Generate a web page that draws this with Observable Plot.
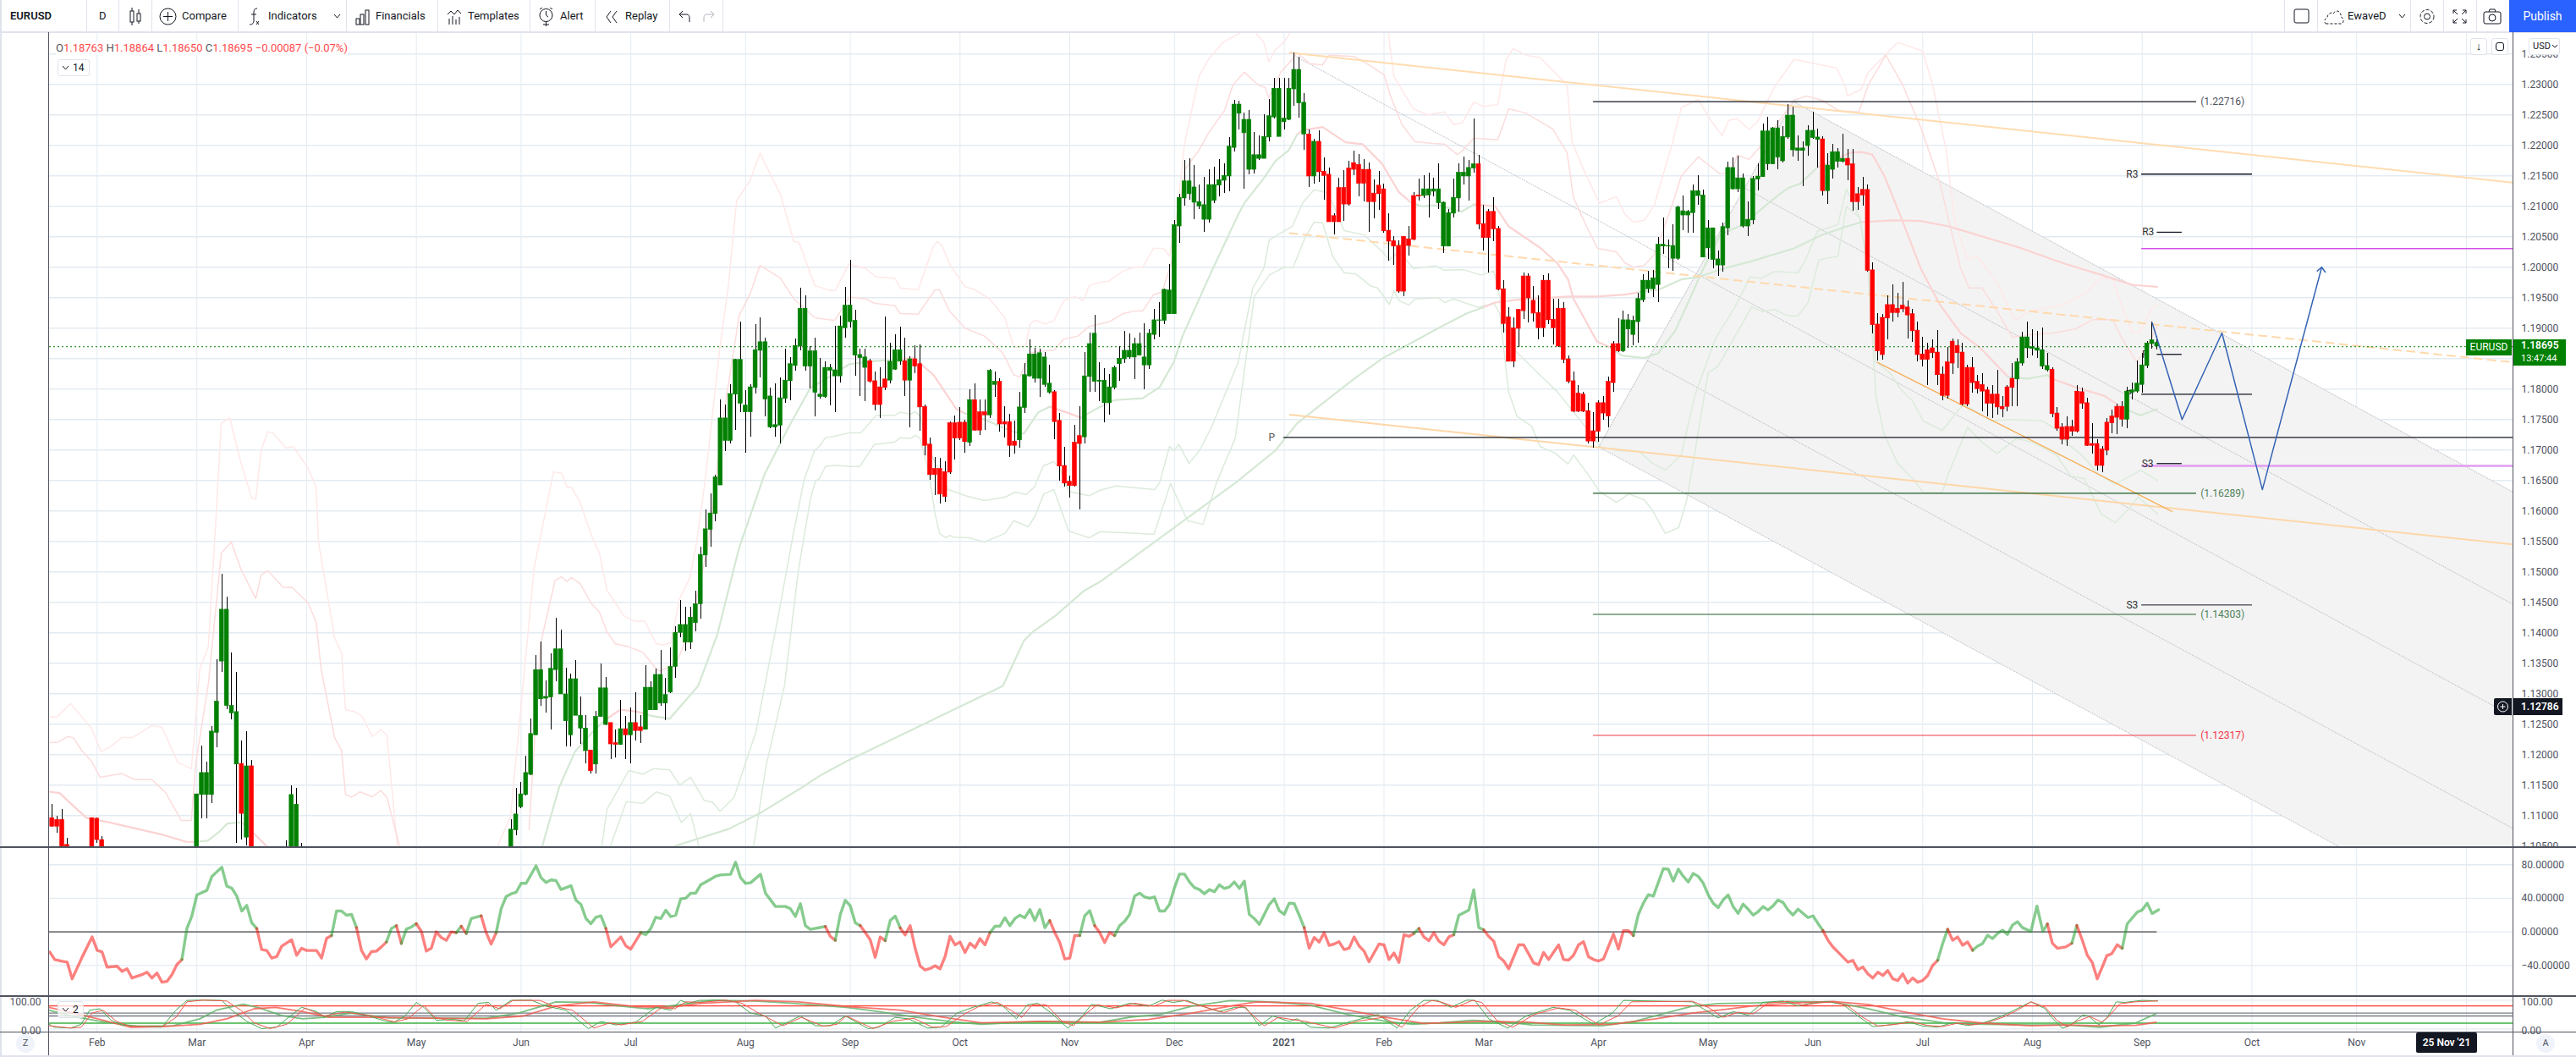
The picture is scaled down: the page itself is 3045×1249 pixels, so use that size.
<!DOCTYPE html>
<html><head><meta charset="utf-8">
<script src="https://cdn.jsdelivr.net/npm/d3@7"></script>
<script src="https://cdn.jsdelivr.net/npm/@observablehq/plot@0.6"></script>
<style>
html,body{margin:0;padding:0;background:#fff;width:3045px;height:1249px;overflow:hidden;font-family:Roboto,sans-serif}
.p{position:absolute;left:0}
.t{position:absolute;white-space:nowrap;color:#131722;font-size:13px;line-height:16px}
.b{position:absolute;box-sizing:border-box}
svg{display:block}
</style></head><body>
<div id="root" style="position:relative;width:3045px;height:1249px"></div>
<script>
// ---- Candles: rows are [bodyTop, bodyBottom, high, low] in 1/10000 of a price unit ----
const barsJan20a=[[11096,11082,11118,11081],[11093,11082,11099,11071],[11093,11047,11110,11040],[11052,11040,11063,11040]];
const barsJan20b=[[11096,11040,11096,11040],[11095,11060,11096,11055],[11060,11040,11066,11040]];
const barsMar20=[[11135,11040,11135,11040],[11170,11134,11214,11095],[11170,11134,11188,11095],[11238,11134,11246,11120],[11287,11236,11356,11211],[11438,11353,11496,11335],[11438,11280,11459,11274],[11280,11268,11367,11257],[11270,11184,11335,11055],[11185,11103,11223,11060],[11181,11064,11238,11050],[11181,11040,11191,11040]];
const barsApr20=[[11040,11040,11059,11040],[11134,11040,11149,11040],[11118,11040,11145,11040],[11040,11040,11054,11040]];
const barsJun20=[[11077,11040,11094,11040],[11102,11076,11145,11067],[11135,11114,11155,11112],[11170,11134,11198,11132],[11234,11167,11259,11166],[11339,11232,11363,11232],[11339,11291,11385,11280],[11295,11292,11321,11268],[11341,11294,11366,11241],[11373,11339,11424,11320],[11373,11299,11405,11299],[11299,11255,11342,11213],[11324,11232,11332,11213],[11324,11264,11355,11264],[11264,11243,11295,11217],[11243,11206,11264,11185],[11207,11173,11207,11168],[11262,11184,11271,11168],[11309,11262,11349,11262],[11309,11249,11327,11248],[11252,11217,11252,11192],[11219,11216,11241,11195],[11242,11216,11289,11216],[11242,11232,11263,11192],[11252,11232,11277,11185],[11252,11239,11302,11223],[11245,11239,11264,11219],[11310,11241,11346,11241],[11310,11273,11320,11273],[11331,11273,11341,11273],[11331,11284,11371,11280],[11298,11284,11325,11256]];
const barsJul20=[[11344,11302,11375,11300],[11400,11344,11410,11325],[11413,11400,11453,11392],[11413,11384,11442,11370],[11425,11384,11442,11373],[11447,11416,11469,11402],[11528,11447,11541,11423],[11570,11527,11602,11507],[11596,11569,11628,11540],[11655,11595,11659,11582],[11752,11642,11782,11642],[11752,11715,11774,11698],[11792,11715,11807,11710],[11848,11791,11849,11732],[11848,11776,11910,11762]];
const barsAug20=[[11773,11762,11798,11695],[11803,11762,11807,11721],[11864,11802,11906,11792],[11877,11863,11917,11818],[11877,11783,11884,11755],[11788,11737,11802,11735],[11741,11737,11809,11721],[11785,11740,11819,11710],[11814,11784,11866,11777],[11841,11813,11852,11781],[11871,11838,11882,11829],[11932,11870,11966,11863],[11932,11837,11953,11830],[11862,11837,11870,11801],[11862,11794,11884,11754],[11791,11787,11850,11784],[11835,11787,11845,11785],[11835,11830,11841,11773],[11831,11821,11903,11762],[11903,11821,11920,11810],[11937,11900,11967,11884]];
const barsSep20=[[11937,11910,12012,11900],[11912,11855,11930,11821],[11856,11851,11866,11788],[11852,11835,11866,11780],[11846,11812,11849,11810],[11813,11774,11828,11764],[11803,11774,11835,11752],[11816,11802,11919,11798],[11845,11814,11875,11809],[11864,11832,11889,11831],[11864,11845,11902,11839],[11846,11814,11884,11788],[11849,11814,11853,11737],[11849,11837,11871,11826],[11841,11770,11873,11731],[11771,11707,11774,11691],[11709,11659,11720,11651],[11669,11659,11688,11625],[11669,11627,11687,11612],[11664,11623,11681,11614],[11744,11663,11746,11660],[11744,11719,11756,11684]];
const barsOct20=[[11745,11719,11770,11716],[11745,11713,11749,11695],[11782,11712,11799,11706],[11782,11732,11809,11731],[11762,11732,11782,11724],[11762,11757,11782,11732],[11830,11757,11832,11752],[11812,11807,11828,11787],[11812,11742,11817,11730],[11746,11742,11771,11720],[11746,11707,11759,11688],[11714,11707,11748,11694],[11770,11716,11795,11703],[11823,11769,11842,11760],[11857,11821,11881,11820],[11857,11817,11867,11810],[11859,11817,11866,11787],[11852,11807,11860,11803],[11809,11794,11839,11792],[11795,11746,11798,11717],[11748,11673,11760,11649],[11674,11645,11705,11639]];
const barsNov20=[[11648,11641,11657,11621],[11712,11641,11741,11639],[11723,11710,11771,11602],[11821,11721,11860,11710],[11874,11820,11892,11795],[11891,11812,11921,11795],[11814,11812,11844,11780],[11814,11777,11834,11745],[11803,11777,11824,11757],[11835,11802,11838,11799],[11850,11841,11870,11813],[11863,11849,11895,11842],[11863,11852,11891,11849],[11874,11852,11884,11816],[11874,11855,11892,11855],[11852,11839,11907,11799],[11891,11839,11898,11832],[11913,11889,11931,11881],[11913,11912,11942,11885],[11963,11912,11964,11906],[11962,11923,12005,11923]];
const barsDec20=[[12069,11923,12077,11923],[12114,12067,12120,12039],[12141,12113,12175,12100],[12141,12120,12178,12110],[12131,12106,12167,12078],[12107,12100,12135,12095],[12102,12078,12148,12057],[12135,12078,12160,12073],[12135,12109,12164,12105],[12143,12134,12177,12116],[12150,12142,12170,12121],[12198,12149,12213,12124],[12267,12196,12274,12189],[12267,12252,12273,12225],[12242,12220,12253,12128],[12242,12160,12257,12152],[12184,12160,12221,12153],[12184,12178,12216,12175],[12214,12178,12250,12178],[12248,12213,12275,12206],[12293,12246,12310,12244],[12293,12214,12310,12214]];
const barsJan21=[[12244,12238,12310,12226],[12293,12242,12310,12240],[12324,12292,12352,12264],[12324,12269,12345,12245],[12270,12218,12285,12192],[12218,12149,12225,12131],[12206,12149,12210,12137],[12206,12156,12224,12139],[12157,12150,12180,12110],[12152,12074,12163,12074],[12084,12074,12088,12053],[12130,12074,12146,12074],[12130,12103,12159,12075],[12162,12103,12174,12100],[12171,12160,12191,12150],[12168,12137,12185,12116],[12160,12137,12177,12107],[12160,12107,12171,12057],[12121,12107,12143,12080],[12134,12120,12157,12093]];
const barsFeb21=[[12128,12059,12137,12056],[12060,12042,12088,12010],[12043,12034,12050,12003],[12035,11960,12043,11957],[12050,11960,12050,11952],[12046,12035,12067,12018],[12117,12045,12123,12043],[12118,12116,12145,12109],[12128,12117,12150,12113],[12128,12118,12155,12081],[12128,12124,12146,12116],[12128,12105,12170,12095],[12106,12034,12107,12023],[12089,12034,12095,12034],[12114,12088,12145,12081],[12155,12113,12170,12091],[12155,12149,12181,12135],[12163,12149,12175,12109],[12169,12162,12243,12155],[12169,12070,12184,12062]];
const barsMar21=[[12071,12048,12102,12027],[12091,12048,12095,11991],[12091,12062,12114,12042],[12063,11963,12067,11962],[11964,11907,11978,11892],[11918,11845,11934,11845],[11900,11845,11917,11835],[11930,11899,11931,11868],[11985,11928,11991,11914],[11985,11949,11989,11909],[11945,11924,11968,11910],[11925,11900,11953,11881],[11978,11900,11987,11885],[11978,11913,11989,11906],[11914,11900,11948,11873],[11932,11870,11948,11869],[11932,11848,11942,11842],[11849,11812,11855,11809],[11813,11763,11828,11762],[11793,11763,11806,11762],[11791,11763,11795,11762],[11764,11714,11777,11710],[11731,11714,11762,11703]];
const barsApr21=[[11777,11730,11781,11713],[11777,11760,11788,11749],[11812,11755,11820,11737],[11874,11810,11878,11795],[11874,11862,11916,11860],[11913,11862,11928,11860],[11913,11898,11923,11867],[11912,11889,11920,11871],[11948,11910,11957,11875],[11978,11946,11988,11942],[11978,11964,11994,11957],[11982,11964,11995,11950],[12037,11971,12049,11942],[12037,12034,12081,12021],[12035,12034,12045,11998],[12035,12014,12070,11994],[12098,12014,12101,12012],[12092,12085,12117,12060],[12091,12085,12093,12056],[12125,12089,12135,12056],[12125,12117,12150,12102],[12118,12016,12127,12016]];
const barsMay21=[[12064,12031,12077,12013],[12064,12012,12064,11998],[12013,12003,12027,11985],[12066,12003,12073,11992],[12163,12064,12173,12052],[12163,12128,12180,12127],[12146,12128,12182,12123],[12146,12067,12153,12064],[12078,12067,12107,12050],[12145,12077,12149,12070],[12149,12144,12170,12125],[12223,12148,12235,12148],[12223,12169,12246,12159],[12228,12169,12230,12169],[12228,12180,12241,12160],[12214,12174,12231,12171],[12249,12213,12267,12210],[12249,12192,12263,12181],[12195,12191,12216,12174],[12195,12191,12206,12132],[12224,12199,12232,12182]];
const barsJun21=[[12224,12212,12255,12210],[12213,12209,12227,12163],[12210,12125,12214,12117],[12167,12125,12187,12103],[12189,12160,12202,12145],[12189,12173,12195,12163],[12178,12173,12219,12171],[12178,12167,12193,12142],[12169,12107,12193,12092],[12120,12107,12131,12094],[12127,12118,12148,12100],[12127,11994,12135,11992],[11995,11905,12007,11891],[11906,11862,11924,11846],[11917,11856,11923,11848],[11938,11916,11953,11881],[11938,11925,11971,11910],[11932,11925,11957,11917],[11937,11931,11975,11925],[11934,11921,11945,11882],[11923,11895,11931,11877],[11896,11856,11910,11845]];
const barsJul21=[[11857,11848,11885,11837],[11864,11848,11875,11806],[11867,11859,11881,11850],[11860,11823,11896,11806],[11824,11789,11837,11781],[11844,11789,11869,11784],[11878,11842,11882,11824],[11871,11859,11881,11834],[11860,11775,11875,11773],[11835,11775,11839,11771],[11835,11810,11852,11794],[11812,11800,11823,11792],[11807,11796,11825,11763],[11798,11776,11803,11755],[11791,11776,11806,11752],[11791,11770,11831,11757],[11771,11767,11788,11753],[11803,11771,11806,11763],[11817,11802,11842,11771],[11844,11816,11851,11771],[11885,11842,11894,11838],[11885,11867,11910,11851]];
const barsAug21=[[11869,11866,11898,11855],[11867,11863,11895,11851],[11864,11837,11900,11832],[11838,11831,11859,11828],[11832,11759,11835,11753],[11760,11735,11770,11731],[11737,11717,11744,11709],[11738,11717,11755,11706],[11738,11730,11749,11723],[11796,11730,11806,11728],[11795,11776,11802,11767],[11777,11707,11785,11706],[11710,11707,11744,11694],[11710,11674,11717,11666],[11701,11674,11706,11663],[11745,11699,11752,11691],[11755,11744,11766,11727],[11771,11753,11776,11726],[11771,11750,11780,11738],[11796,11750,11803,11735],[11798,11794,11810,11783],[11809,11796,11846,11794]];
const barsSep21=[[11839,11807,11859,11794],[11875,11838,11878,11834],[11880,11874,11910,11866],[11876,11870,11887,11864]];
const barBlocks=[[-9,barsJan20a],[-1,barsJan20b],[20,barsMar20],[38,barsApr20],[83,barsJun20],[115,barsJul20],[130,barsAug20],[151,barsSep20],[173,barsOct20],[195,barsNov20],[216,barsDec20],[238,barsJan21],[258,barsFeb21],[278,barsMar21],[301,barsApr21],[323,barsMay21],[344,barsJun21],[366,barsJul21],[388,barsAug21],[410,barsSep21]];
const upBarRanges=[[20,28],[30,30],[38,41],[83,98],[100,102],[105,105],[107,107],[110,154],[159,161],[163,163],[175,175],[179,180],[185,191],[198,242],[244,244],[266,276],[306,345],[347,350],[385,391],[407,413]];

// ---- Time axis: bar index of each month start ----
const monthBars=[0,20,42,64,85,107,130,151,173,195,216,238,258,278,301,323,344,366,388,410,432,453,475];
const monthNames=["Feb","Mar","Apr","May","Jun","Jul","Aug","Sep","Oct","Nov","Dec","2021","Feb","Mar","Apr","May","Jun","Jul","Aug","Sep","Oct","Nov","Dec"];

// ---- Price ticks and drawn levels ----
const priceTicks=[1.105,1.11,1.115,1.12,1.125,1.13,1.135,1.14,1.145,1.15,1.155,1.16,1.165,1.17,1.175,1.18,1.185,1.19,1.195,1.2,1.205,1.21,1.215,1.22,1.225,1.23,1.235];
const lastPrice=1.18695;
const levelLines=[
 {a:300,b:420.9,p:1.22716,c:"#131722",w:1.3},{a:300,b:420.9,p:1.16289,c:"#1e5c28",w:1.3},{a:300,b:420.9,p:1.14303,c:"#1e5c28",w:1},{a:300,b:420.9,p:1.12317,c:"#f23645",w:1},
 {a:237.9,b:484.34,p:1.17208,c:"#131722",w:1.3},{a:409.9,b:432.1,p:1.21528,c:"#131722",w:1.3},{a:413,b:418,p:1.20574,c:"#131722",w:1.3},{a:409.9,b:484.34,p:1.20306,c:"#d24fe6",w:1.5},
 {a:413,b:418,p:1.1857,c:"#131722",w:1.3},{a:409.9,b:432.1,p:1.17916,c:"#131722",w:1.3},{a:413,b:418,p:1.16778,c:"#131722",w:1.3},{a:409.9,b:484.34,p:1.16741,c:"#e29cf3",w:2.5},{a:409.9,b:432.1,p:1.14457,c:"#131722",w:1}];
const sideLabels=[
 {i:421.7,p:1.22716,t:"(1.22716)",c:"#50535e"},{i:421.7,p:1.16289,t:"(1.16289)",c:"#4f8258"},{i:421.7,p:1.14303,t:"(1.14303)",c:"#4f8258"},{i:421.7,p:1.12317,t:"(1.12317)",c:"#f23645"}];
const pivotLabels=[
 {i:408,p:1.21528,t:"R3",c:"#333"},{i:411.2,p:1.20574,t:"R3",c:"#333"},{i:235.5,p:1.17208,t:"P",c:"#555"},{i:410.6,p:1.1857,t:"P",c:"#333"},{i:407.3,p:1.17916,t:"P",c:"#333"},{i:411.1,p:1.16778,t:"S3",c:"#333"},{i:408,p:1.14457,t:"S3",c:"#333"}];
const trendTop=[[239.1,12352],[484.34,12139]];
const trendDashed=[[239.1,12056],[484.34,11844]];
const trendBottom=[[239.1,11758],[484.34,11545]];
const trendWedge=[[356.9,11844],[416,11599]];
const forecastPath=[[412,11909],[418,11750],[426,11892],[434.1,11635],[446,12000]];
const forecastHead=[[445.1,11994],[446,12000],[446.7,11992]];
const channelArea=[[301.05,11705,11705],[340.06,11532,12272],[484.34,10895,11631]];
const channelLines=[[[301.05,11705],[340.06,12272]],[[340.06,12272],[484.34,11631]],[[330.3,12130],[484.34,11447]],[[240.5,12345],[484.34,11263]],[[310.8,11847],[484.34,11079]],[[301.05,11705],[484.34,10895]]];

// ---- Moving averages: thick lines, alternating colour runs ----
const maFastDown=[
 [[-9.4,11139],[-7.5,11137],[-5.3,11120],[-2.1,11096],[2.3,11089],[13,11069],[17.9,11057],[19.6,11057]],
 [[29,11089],[31.5,11070],[34.2,11048]],
 [[101.7,11256],[104.9,11274],[107.8,11271],[109.8,11268]],
 [[159.9,11848],[163.8,11851],[167.7,11823],[172.3,11767],[174,11760]],
 [[190.9,11771],[194.3,11762],[197.2,11753]],
 [[240.6,12218],[241.8,12225],[245.7,12230],[250.3,12205],[253.7,12202],[257.6,12170],[261,12123],[263.3,12107]],
 [[276,12103],[280.3,12100],[283,12067],[289.3,12032],[292.7,12007],[294.9,11980],[296,11948],[298.3,11914],[300.7,11878],[303.4,11868]],
 [[344.9,12164],[351.5,12188],[353.7,12189],[355.9,12185],[358.3,12150],[361.7,12081],[365.6,11998],[369.5,11938],[373.6,11892],[377.5,11868],[383.1,11820]],
 [[391.9,11817],[396.7,11803],[402.4,11789],[406.3,11768]]];
const maFastUp=[
 [[19.6,11057],[22.2,11059],[24.4,11073],[26.1,11087],[29,11089]],
 [[89.3,11051],[92.6,11146],[95.8,11205],[99.3,11237],[101.7,11256]],
 [[109.8,11268],[110.9,11264],[114.8,11259],[120.5,11313],[124.3,11396],[128.7,11539],[133.8,11660],[138.4,11734],[143,11802],[146.8,11820],[150.8,11841],[155.8,11846],[159.9,11848]],
 [[174,11760],[177.9,11750],[183.6,11730],[185.8,11727],[188.7,11762],[190.9,11771]],
 [[197.2,11753],[201.1,11771],[204,11782],[209.6,11785],[213,11803],[215.9,11845],[217.6,11887],[223.2,11989],[228.8,12087],[230,12105],[233.9,12146],[236.2,12174],[238.9,12192],[240.6,12218]],
 [[263.3,12107],[265.5,12100],[268.9,12102],[273.5,12091],[276,12103]],
 [[303.4,11868],[305.7,11855],[310.2,11851],[313,11859],[316.4,11896],[319.3,11948],[321.5,11989],[325.4,12053],[330,12070],[335.6,12109],[339,12130],[341.4,12137],[344.9,12164]],
 [[383.1,11820],[387.1,11817],[391,11823],[391.9,11817]],
 [[406.3,11768],[409.7,11757],[413,11767]]];
const maSlowUp=[
 [[115.8,11050],[126.6,11078],[133.1,11105],[140.7,11143],[145,11166],[150.2,11189],[181.6,11313],[185.8,11387],[187.5,11401],[192.1,11428],[197.7,11468],[201.1,11484],[228.2,11646],[236.2,11699],[240.6,11744],[246.4,11781],[252,11817],[257.6,11850],[263.3,11875],[268.9,11900],[274.5,11924],[277.9,11934]],
 [[309.1,11959],[313,11963],[317.6,11980],[321,11984],[326.1,11998],[331.7,12010],[340.2,12031],[345.8,12053],[350.4,12066],[353.7,12074]]];
const maSlowDown=[
 [[277.9,11934],[280.3,11942],[286,11948],[289.3,11949],[294.9,11952],[300.7,11952],[306.3,11955],[309.1,11959]],
 [[353.7,12074],[360,12077],[365.6,12076],[371.2,12067],[374.1,12060],[385.5,12032],[394,12007],[402.4,11986],[408,11971],[413,11968]]];

// ---- Channel bands: thin lines ----
const bandOuterUpperA=[[-9.4,11262],[-8,11262],[-5.3,11284],[-3.1,11262],[-1.1,11243],[.8,11205],[2.8,11214],[4.9,11228],[7.1,11228],[11,11248],[13,11245],[16.2,11187],[18.9,11177],[20.6,11341],[22.3,11377],[23.9,11598],[24.9,11744],[26.6,11753],[28.8,11680],[31,11621],[31.8,11619],[32.9,11700],[34.2,11730],[35.2,11728],[37.9,11703],[39.3,11706],[42.3,11670],[43.9,11639],[44.4,11548],[47.6,11392],[49,11367],[49.8,11274],[51.5,11271],[53,11264],[55.2,11230],[56.9,11241],[58.1,11232],[60.2,11048]];
const bandInnerUpperA=[[-9.4,11220],[-8,11220],[-5.8,11230],[-4.8,11228],[-3.1,11207],[-1.1,11189],[.6,11163],[2.8,11166],[4.9,11169],[7.6,11159],[11,11159],[13.7,11138],[16.9,11092],[18.9,11092],[19.8,11187],[22.3,11316],[24.9,11531],[26.9,11549],[28.8,11505],[31.8,11456],[32.9,11495],[34.2,11502],[37.4,11474],[39,11475],[42.3,11449],[43.9,11418],[44.9,11341],[47.6,11228],[49,11207],[49.8,11135],[51,11130],[52.7,11139],[55.2,11131],[56.9,11141],[58.1,11130],[60.7,11048]];
const bandOuterUpperB=[[80.2,11048],[82.9,11099],[87.6,11505],[91.5,11664],[93.1,11662],[94.2,11639],[95.1,11639],[96.9,11613],[99,11562],[100.7,11531],[102.2,11470],[103.9,11449],[105.6,11428],[107.7,11419],[109.8,11419],[112.1,11382],[113.6,11380],[115,11384],[116.8,11456],[118.8,11489],[120.2,11549],[121.9,11650],[124.8,11864],[126.5,11966],[128.2,12109],[130.9,12142],[132.9,12187],[137,12119],[139.7,12042],[140.7,12041],[143.9,11970],[146.8,11962],[148,11962],[150.7,12005],[154.1,11998],[156.2,11984],[159.9,11982],[161,11966],[164.6,11963],[167.7,12035],[168.5,12042],[169.4,12035],[170.9,12005],[174,11968],[176,11963],[178.8,11949],[182,11917],[183.8,11868],[186.2,11871],[187,11906],[188,11913],[190.1,11907],[191.8,11912],[193.8,11945],[196,11952],[197.7,11945],[198.9,11970],[201.1,11975],[202.8,11977],[205.7,11994],[207.9,12000],[209.6,12000],[211.8,12031],[213.8,12031],[215,12018],[216.4,12081],[218,12202],[220.9,12313],[222.8,12341],[225.7,12369],[231.3,12394],[233.9,12369],[234.9,12337],[236.2,12357],[237.9,12369],[240.1,12396],[252,12410],[258.8,12396],[259.1,12369],[260,12313],[263.9,12260],[266.7,12250],[270.1,12255],[272,12234],[273.7,12237],[276,12271],[277.9,12264],[280.8,12267],[282.5,12341],[283.9,12359],[286.4,12348],[289.3,12344],[294.7,12299],[295.7,12206],[297.8,12164],[301.2,12105],[304.6,12116],[306.3,12087],[308,12074],[310.2,12077],[312.2,12102],[315.9,12206],[317.6,12262],[321,12275],[323.7,12239],[325.8,12216],[327.1,12241],[328.8,12244],[331.2,12226],[332.9,12239],[336.2,12295],[340.2,12341],[348.7,12327],[350.4,12299],[350.9,12281],[353.7,12292],[355.1,12320],[361,12369],[366,12355],[368,12299],[370.7,12192],[372.4,12077],[374.9,12014],[377,12017],[380.9,11975],[384,11920],[384.8,11914],[387.2,11927],[394,11938],[398.4,11956],[401.6,11982],[404.1,11982],[406,11934],[408,11893],[409.4,11892],[412,11934],[413.1,11939]];
const bandInnerUpperB=[[86.6,11077],[88.9,11382],[91.8,11486],[93.1,11492],[94.2,11484],[95.1,11491],[96.9,11480],[99,11449],[100.7,11434],[102.2,11402],[103.9,11382],[106.6,11377],[109.4,11368],[112.1,11341],[112.9,11337],[116.1,11350],[118.8,11403],[122.6,11549],[125.6,11757],[128.7,11920],[130.9,11956],[132.9,12003],[137,11982],[139.7,11948],[143.9,11917],[147.7,11913],[148,11914],[150.8,11951],[154.1,11948],[155.8,11941],[159.9,11937],[161,11924],[164.6,11923],[168,11963],[168.9,11963],[170.9,11928],[174,11900],[177.9,11887],[181.6,11859],[183.8,11823],[185,11820],[187,11859],[188.7,11862],[191.8,11864],[193.8,11882],[196.6,11887],[198.9,11903],[201.1,11907],[202.8,11910],[205.7,11924],[207.9,11928],[209.6,11928],[211.8,11955],[213.5,11959],[215.9,12021],[218,12160],[220.9,12192],[222.8,12220],[226,12257],[227.7,12299],[230,12320],[232.8,12299],[234.2,12295],[234.9,12278],[237.3,12320],[239.6,12341],[240.6,12352],[243.1,12334],[245.7,12332],[246.9,12348],[252,12346],[255.4,12330],[258,12316],[259.3,12281],[261.6,12234],[264.2,12206],[267.8,12203],[270.1,12202],[272.7,12185],[273.7,12191],[276,12212],[280.8,12209],[283,12260],[286.4,12253],[289.3,12239],[291.8,12227],[294.7,12188],[296,12114],[298.6,12067],[300.8,12031],[304.6,12025],[306.3,12007],[308,12000],[310.2,12003],[312.2,12021],[315.9,12105],[317.6,12150],[321,12181],[323.2,12167],[325.4,12153],[327.8,12157],[328.8,12184],[331.2,12177],[333.9,12202],[340.2,12274],[342.7,12281],[345.8,12274],[349.2,12257],[353.2,12255],[355.1,12299],[358.6,12348],[362,12299],[365.6,12230],[369.5,12137],[371.2,12077],[373.6,11998],[375.3,11966],[377.9,11966],[380.9,11928],[384,11885],[387.2,11889],[392.2,11892],[396.7,11899],[400.1,11914],[404.1,11914],[406,11882],[408.9,11845],[410.6,11862],[413,11903]];
const bandInnerLower=[[101.2,11050],[102.2,11110],[106.6,11174],[109.4,11168],[111.5,11177],[114.8,11175],[116.8,11150],[119,11163],[121.7,11125],[123.4,11122],[124.9,11107],[127.7,11130],[132.1,11238],[136.7,11434],[139.5,11559],[141.7,11650],[143.8,11699],[144.8,11706],[146,11720],[148,11723],[150.7,11728],[153.1,11728],[156.2,11757],[159.9,11757],[161,11762],[163,11759],[164.1,11763],[165,11755],[166.7,11702],[170.6,11635],[174.5,11624],[177.9,11617],[182.1,11623],[184.1,11631],[186.2,11627],[187.9,11639],[189.7,11674],[191.8,11681],[193,11670],[194.8,11632],[198.9,11625],[201.1,11634],[204.3,11641],[212,11635],[213,11646],[215,11706],[215.9,11699],[216.9,11709],[218.9,11678],[221,11699],[223.5,11739],[228.8,11845],[231.7,11966],[233.9,11998],[235,12045],[239.6,12067],[241.8,12107],[244,12127],[246.4,12123],[247.7,12105],[250,12060],[254,12053],[257.6,12026],[259.1,12012],[261,12026],[263.9,11998],[268.4,12002],[270.1,11995],[274,11996],[277.4,11987],[280,11994],[281.2,11952],[281.7,11906],[284.2,11864],[289.3,11823],[292.7,11796],[297.8,11744],[301.5,11705],[305.1,11699],[309.1,11698],[311.9,11678],[314.4,11667],[317.6,11692],[320.3,11789],[324.4,11882],[328.3,11934],[331.4,11984],[333.7,11982],[336.2,11993],[341,11991],[342.4,12010],[344.9,12059],[349,12070],[350.7,12128],[353.4,12081],[354.9,12007],[356.6,11845],[359.4,11827],[361.7,11799],[363.9,11781],[366.1,11748],[369.9,11732],[374.1,11775],[377,11762],[379.7,11748],[383.8,11750],[389.9,11748],[392.8,11734],[395.7,11706],[398.4,11688],[401.2,11660],[404.6,11644],[409.7,11667],[413.1,11650]];
const bandOuterLower=[[102.9,11050],[106.1,11123],[109.4,11120],[112.1,11139],[114.8,11132],[117.1,11089],[119,11103],[120.7,11048],[131.6,11048],[134.1,11181],[137.8,11313],[140.6,11503],[143,11619],[144,11649],[144.8,11653],[146,11673],[148,11675],[150.7,11673],[152.9,11673],[155.8,11709],[159.9,11713],[161,11720],[163,11719],[164.1,11724],[165,11719],[166.7,11664],[168,11595],[168.9,11563],[170.1,11556],[170.9,11560],[171.8,11557],[174.8,11556],[177.9,11549],[182,11563],[183.8,11584],[186.7,11574],[188,11591],[189.8,11628],[191.8,11635],[194.8,11567],[198.9,11556],[201.1,11566],[211.9,11562],[215.2,11645],[218.6,11584],[221.7,11578],[224.4,11646],[228.2,11720],[232,11952],[235,11987],[237.9,12000],[239.8,12000],[242.2,12049],[244,12074],[245.7,12073],[247.7,12018],[250,11991],[252.3,11989],[255.4,11969],[256.7,11966],[259.1,11939],[260,11962],[261,11945],[263,11938],[264.2,11948],[268.9,11950],[270.1,11942],[272,11948],[276.9,11934],[280,11941],[281.2,11924],[283,11795],[284.7,11755],[287.6,11739],[289.3,11706],[292.3,11695],[294.9,11677],[296,11692],[298.9,11660],[301.2,11632],[304.6,11614],[307.1,11628],[310.2,11618],[311.9,11600],[314.4,11563],[317.1,11573],[318.7,11618],[323,11827],[324.9,11837],[330,11910],[331.7,11935],[333.9,11927],[336.2,11931],[339,11920],[341,11920],[343,11942],[345.2,12012],[349,12018],[350.7,12100],[353.4,12081],[355.1,11993],[356.6,11789],[358.3,11725],[361,11678],[364.3,11650],[366.1,11630],[369.9,11630],[371.1,11660],[375,11737],[378,11712],[380.9,11694],[384.8,11719],[388.2,11712],[392.8,11692],[395.7,11657],[398.4,11653],[401.8,11595],[404.6,11581],[407.5,11605],[409.2,11623],[413.1,11595]];

// ---- Oscillator pane: [bar, value] ----
const oscillatorSeries=[[-9.5,-24],[-8.5,-33],[-7,-35],[-6,-36],[-5,-56],[-3,-30],[-1,-6],[0,-22],[1,-24],[2,-42],[4,-41],[5,-47],[6,-44],[7,-55],[9,-51],[10,-48],[11,-55],[12,-49],[13,-60],[14,-59],[15,-51],[16,-39],[17,-33],[18,4],[19,19],[20,44],[22,49.4],[23,66],[25,77],[26,54.4],[27,52],[28,42.6],[29,24.8],[30,31.5],[31,10.7],[32,4],[33,-21.2],[34,-22.2],[35,-31.3],[36,-29.6],[37,-17.2],[39,-9.4],[40,-27.9],[41,-19.5],[42,-22.2],[44,-22.2],[45,-31.3],[46,-7.8],[47,-4.4],[48,24.8],[49,24.8],[50,19.8],[51,20.8],[52,5],[53,-22.2],[54,-32.3],[55,-23.6],[56,-22.9],[57,-17.9],[58,-12.1],[59,4],[60,7.4],[61,-13.8],[62,3.3],[63,5.7],[64,9.7],[65,.6],[66,-22.9],[67,-19.5],[68,0],[69,-6.8],[70,-10.1],[71,0],[72,-1],[73,6.7],[74,-2],[75,15.8],[77,19.1],[78,-1],[79,-14.5],[80,-1],[81,27.5],[82,42],[83,45.3],[84,47],[85,57.8],[86,57.8],[88,78.6],[89,64.5],[90,58.8],[91,61.8],[92,61.1],[93,50.4],[95,55],[96,37.6],[97,32.6],[98,15.8],[99,9.7],[100,17.4],[101,19.1],[102,4],[103,-17.9],[105,-6.1],[106,-16.8],[107,-20.5],[109,-1],[110,-3.4],[111,4],[112,17.4],[113,15.8],[114,25.8],[115,18.1],[116,19.8],[117,39.3],[118,40],[119,46],[120,46],[121,56],[122,59.4],[124,66.2],[125,67.8],[127,68.5],[128,83],[129,64.5],[130,57.8],[131,58.4],[133,68.5],[134,46],[136,30.2],[138,30.2],[139,27.5],[140,18.4],[141,33.6],[142,7.4],[143,3],[146,6.4],[147,-5.4],[148,-10.1],[149,20.8],[150,37.6],[151,30.9],[152,10.7],[153,7.4],[154,-1],[155,-9.4],[156,-30.3],[157,-6.1],[158,-10.5],[159,13.4],[160,18.8],[161,4.7],[162,-3.7],[163,7.4],[164,-19.5],[165,-40.7],[166,-45.4],[167,-43.7],[168,-40.4],[169,-44],[170,-29.6],[171,-5.4],[172,-15.5],[173,-12.1],[174,-24.6],[175,-13.5],[176,-18.9],[177,-8.1],[178,-15.5],[179,-1],[180,6.7],[181,6.7],[182,16.8],[183,7.4],[184,15.8],[185,19.8],[186,16.8],[187,26.5],[188,13.4],[189,26.5],[190,5],[191,13.4],[192,-1],[193,-12.8],[194,-32.3],[195,-31.3],[196,-4.4],[197,-4.4],[198,19.1],[199,25.2],[200,7.4],[201,-1],[202,-12.8],[203,-1],[204,-4.4],[205,7.4],[206,12.4],[207,20.8],[208,42.6],[209,46],[210,41.6],[211,40],[212,41.6],[213,24.8],[214,24.8],[215,32.6],[216,52.7],[217,68.8],[218,68.8],[219,59.4],[220,52.7],[221,50.4],[222,45.3],[223,50.4],[224,47.7],[225,56],[226,51.7],[227,53.4],[228,59.4],[229,51.7],[230,60.4],[231,20.8],[232,15.8],[233,9],[234,20.8],[235,32.6],[236,39.3],[237,25.2],[238,20.8],[239,34.2],[240,33.6],[241,19.8],[242,5],[243,-19.5],[244,-6.8],[245,-12.1],[246,-1],[247,-16.2],[248,-14.5],[249,-11.8],[250,-21.2],[251,-19.5],[252,-6.1],[253,-16.8],[254,-22.9],[255,-35.7],[257,-14.5],[258,-15.5],[259,-33],[260,-25.2],[261,-36.3],[262,-3.4],[263,-5.4],[264,-2],[265,4],[266,-6.1],[267,-10.5],[268,-1],[269,-11.1],[270,-15.5],[271,-6.1],[272,-3.4],[273,19.8],[275,25.8],[276,50],[277,5],[278,2.3],[279,-5.4],[280,-11.1],[281,-29.6],[282,-34.7],[283,-44],[285,-15.5],[286,-15.5],[287,-26.2],[288,-37],[289,-39],[290,-24.6],[291,-33],[293,-15.5],[294,-33],[295,-33.6],[296,-27.9],[297,-15.5],[298,-11.8],[299,-29.6],[300,-33],[301,-34.7],[302,-32.3],[304,-2.7],[305,-20.5],[306,1.3],[307,1.3],[308,-4.4],[309,20.8],[310,34.2],[311,44.3],[312,42.6],[314,75.2],[315,74.6],[316,60.4],[317,74.6],[318,66.2],[319,59.4],[320,69.5],[321,66],[322,58],[323,44],[324,34],[325,29],[326,38],[327,44],[328,30],[329,22],[330,33],[331,27],[332,20],[333,24],[334,30],[335,26],[336,31],[337,38],[338,35],[339,26],[340,20],[341,27],[342,22],[343,17],[344,19],[345,10],[346,1.5],[347,-10],[348,-18],[349,-24],[350,-30],[351,-36],[352,-34],[353,-45],[354,-42],[355,-50],[356,-55],[357,-48],[358,-52],[359,-46],[360,-56],[361,-58],[362,-50],[363,-61],[364,-55],[365,-60],[366,-58],[367,-52],[368,-40],[369,-34],[370,-14],[371,3],[372,-10],[373,-6],[374,-16],[375,-12],[376,-22],[377,-17],[378,-14],[379,-4],[380,-8],[381,-2],[382,2],[383,-3],[384,8],[385,12],[386,5],[387.7,.5],[388.9,30.6],[390.1,.5],[391,9.4],[392,-13.6],[393,-19.6],[394.7,-17.9],[395.9,-13.6],[396.9,7.6],[398,-10],[399,-27.8],[400,-36.6],[401,-56],[402,-41.9],[402.9,-28.5],[403.9,-26],[405,-15.4],[406,-19.6],[407,9.4],[408,16.5],[409,23.5],[410,26],[411,34.2],[412,21.8],[413.3,26.4]];
const oscillatorGreenRanges=[[17,32],[47,52],[58,60],[61,64],[72,73],[74,77],[80,102],[109,146],[148,153],[158,161],[179,191],[197,200],[204,242],[264,265],[272,278],[308,346],[369,371],[376,391],[395.9,396.9],[406,414]];

// ---- Stochastic pane: [bar, value] ----
const stochLevels=[{v:80,c:"#ff3b30"},{v:55,c:"#787b86"},{v:45,c:"#787b86"},{v:20,c:"#3cb043"}];
const fastGreen=[[-9.6,16],[-8.6,6],[-5.3,3],[-3.2,16],[-1.5,65],[.6,70],[2.8,30],[5,13],[13,6],[15.8,65],[18,99],[21,100],[25,99],[27,65],[30,26],[33,1],[36,6],[38,35],[41,75],[44,60],[45.5,40],[48,60],[51,60],[54,47],[58,26],[59.6,24],[61.7,45],[64,92],[65.5,75],[68,30],[71.5,33],[73.6,28],[76.4,89],[78.5,92],[80,65],[83,99],[87,100],[90,79],[94,65],[98.5,1],[101,26],[104,14],[108,24],[112,75],[115,65],[117,99],[118.5,89],[120.7,99],[125,100],[128,94],[131,55],[134,45],[136,3],[141,45],[144,11],[147,11],[150,45],[154.6,1],[156.7,6],[160,40],[162.7,35],[166.5,3],[169.2,6],[172.4,55],[175.6,75],[179.4,94],[181.6,79],[184.3,35],[186.5,84],[188.6,89],[191.3,55],[194.6,3],[197.3,40],[199.4,86],[203.2,70],[207,89],[210.8,79],[213.5,100],[215.7,92],[218.4,99],[221.6,79],[224.9,60],[228.1,75],[230.3,75],[233,11],[235.7,45],[239,26],[240.6,35],[243.3,6],[247,3],[251.4,26],[256.8,50],[260.6,3],[263.3,65],[266,99],[268.7,99],[271.4,75],[274.6,100],[276.2,99],[279,35],[282.8,3],[286.5,45],[291.9,75],[295.2,65],[300,16],[303.8,55],[306,99],[319.8,94],[322,70],[325,38],[328,60],[331,48],[334,92],[338,97],[341,80],[344,90],[347,95],[350,85],[353,45],[356,8],[360,15],[363,25],[366,10],[369,6],[372,22],[375,12],[378,20],[381,38],[384,62],[387.7,94],[390.5,71],[391.9,40],[394,2],[395.7,14],[398.1,48],[399.2,45],[401.3,14],[403,40],[404.8,94],[406.5,92],[410,99],[413.1,97]];
const fastRed=[[-9.7,11],[-5.3,3],[-3.2,6],[-1,55],[1.2,65],[3.9,26],[6.6,9],[13.1,8],[15.8,40],[18,94],[21.2,100],[26,97],[28.8,65],[31.5,21],[34.7,1],[38,16],[41.7,72],[45.5,45],[49.8,58],[55.2,45],[59.6,24],[62.3,35],[65.5,82],[67.7,40],[70.4,30],[74.2,26],[78,86],[80.7,70],[83.4,99],[88.8,99],[91.5,79],[95.3,65],[99.6,3],[102.8,21],[105,14],[109.3,26],[113.1,73],[115.8,70],[118,94],[121.2,92],[126,100],[129.3,89],[132.6,55],[137.5,11],[141.2,40],[145.6,9],[148.3,16],[150.2,45],[155.6,1],[159.4,26],[163.7,37],[167.5,6],[170.2,8],[174,53],[176.7,77],[180.5,92],[183.2,65],[185.4,40],[187.5,84],[190.3,84],[193.5,26],[195.7,11],[198.4,55],[200.5,84],[204.3,73],[208,89],[211.9,79],[214.6,99],[217.8,99],[223.2,70],[225.9,57],[229.7,79],[234,11],[236.8,40],[242.2,26],[248.1,3],[252.5,26],[257.8,40],[261.6,6],[264.9,75],[267.6,99],[269.7,92],[272.4,75],[275.7,99],[277.6,92],[280.6,30],[283.8,6],[288.1,50],[293,73],[296.3,65],[301.1,14],[304.9,45],[307.6,94],[319.8,96],[323,75],[326,40],[329,58],[332,52],[335,90],[339,96],[342,82],[345,90],[348,94],[351,80],[354,40],[357,10],[361,17],[364,24],[367,12],[370,8],[373,20],[376,14],[379,22],[382,40],[385,65],[387.7,94],[390.5,76],[392.9,30],[395,7],[396.7,25],[399.5,43],[402,23],[403.4,45],[405.5,87],[408.6,94],[413.1,97]];
const slowGreen=[[-9.7,65],[-5.3,45],[.1,28],[7.7,9],[15.2,11],[20.6,35],[23.9,65],[29.3,86],[32.5,73],[36.9,47],[41.2,35],[45.5,40],[50.9,55],[58.5,38],[67.1,37],[78,37],[84.5,55],[92,94],[98.5,92],[105,79],[110.4,70],[116.9,84],[123.4,99],[132,97],[139.6,89],[150.2,75],[156.7,60],[164.3,40],[171.9,24],[177.3,16],[189.2,26],[201.1,23],[207.6,42],[213,50],[219.5,79],[227.1,98],[230.3,97],[236.8,92],[243.3,82],[250.8,50],[258.4,26],[263.8,16],[269.2,21],[275.7,30],[282.2,24],[287.6,14],[301.7,11],[308.2,26],[319.8,79],[325,88],[332,90],[340,95],[348,93],[355,70],[362,42],[370,22],[378,16],[387.7,14],[394.7,14],[401.6,6],[408.6,20],[412.8,53]];
const slowRed=[[-9.7,75],[.1,35],[6.6,6],[13.1,8],[20.6,16],[26,35],[31.5,70],[35.8,75],[41.2,60],[46.6,40],[56.3,40],[67.1,37],[78,35],[85.5,45],[92,79],[99.6,94],[108.2,77],[114.7,75],[121.2,89],[132,99],[140.7,94],[150.2,78],[161,65],[169.7,40],[177.3,21],[189.2,26],[201.1,23],[210.8,33],[219.5,55],[228.1,82],[232.4,94],[243.3,89],[250.8,65],[258.4,40],[266,19],[277.9,26],[286.5,24],[294.1,14],[303.8,16],[312.5,35],[319.8,55],[325,65],[332,80],[340,90],[348,95],[355,85],[362,60],[370,35],[378,20],[387.7,11],[394.7,14],[401.6,11],[408.6,12],[412.8,23]];

// ---- Build tables ----
const isUp=i=>upBarRanges.some(([a,b])=>i>=a&&i<=b);
const bars=barBlocks.flatMap(([s,rows])=>rows.map((r,k)=>({i:s+k,top:r[0]/1e4,bot:r[1]/1e4,hi:r[2]/1e4,lo:r[3]/1e4,up:isUp(s+k)})));
const px=r=>r.map(([i,p])=>({i,p:p/1e4}));
const xDomain=[-9.549,484.34];
const GRID="#e3ebf2", CFONT="Roboto, sans-serif";
const frame={width:3045,marginLeft:58,marginRight:75,x:{domain:xDomain,axis:null}};
const sty=()=>({fontFamily:CFONT,fontSize:"12px",color:"#50535e",background:"transparent",maxWidth:"none",display:"block"});
const line=(r,o)=>Plot.line(px(r),{x:"i",y:"p",clip:true,...o});

// ---- Price pane ----
const pricePane=Plot.plot({...frame,height:963,marginTop:0,marginBottom:0,y:{domain:[1.10476,1.23851],axis:null},style:sty(),marks:[
 Plot.gridX(monthBars,{stroke:GRID,strokeOpacity:1}),
 Plot.gridY(priceTicks,{stroke:GRID,strokeOpacity:1,strokeWidth:1.3}),
 Plot.areaY(channelArea,{x:d=>d[0],y1:d=>d[1]/1e4,y2:d=>d[2]/1e4,fill:"#f3f3f3",clip:true}),
 ...channelLines.map(l=>line(l,{stroke:"#b4b7bf",strokeWidth:.9,strokeDasharray:"1,2"})),
 line(bandOuterUpperA,{stroke:"#ffe8e8"}),line(bandOuterUpperB,{stroke:"#ffe8e8"}),
 line(bandInnerUpperA,{stroke:"#fcdcdc"}),line(bandInnerUpperB,{stroke:"#fcdcdc"}),
 line(bandInnerLower,{stroke:"#dcebdc"}),line(bandOuterLower,{stroke:"#dcebdc"}),
 ...maFastDown.map(r=>line(r,{stroke:"#fbd3d3",strokeWidth:2.2})),
 ...maFastUp.map(r=>line(r,{stroke:"#d5e8d5",strokeWidth:2.2})),
 ...maSlowDown.map(r=>line(r,{stroke:"#fbd3d3",strokeWidth:2.2})),
 ...maSlowUp.map(r=>line(r,{stroke:"#d5e8d5",strokeWidth:2.2})),
 line(trendTop,{stroke:"#ffdcb0",strokeWidth:2}),
 line(trendBottom,{stroke:"#fdd7a8",strokeWidth:2}),
 line(trendDashed,{stroke:"#ffd9ad",strokeWidth:2,strokeDasharray:"9,7"}),
 line(trendWedge,{stroke:"#f6ad55",strokeWidth:1.3}),
 Plot.ruleY([lastPrice],{stroke:"#008000",strokeDasharray:"2,3"}),
 Plot.ruleY(levelLines,{x1:"a",x2:"b",y:"p",stroke:"c",strokeWidth:"w"}),
 Plot.text(sideLabels,{x:"i",y:"p",text:"t",fill:"c",textAnchor:"start",fontSize:12}),
 Plot.text(pivotLabels,{x:"i",y:"p",text:"t",fill:"c",textAnchor:"middle",fontSize:12}),
 Plot.ruleX(bars,{x:"i",y1:"lo",y2:"hi",stroke:"#000",strokeWidth:1,clip:true,shapeRendering:"crispEdges"}),
 Plot.rect(bars,{x1:d=>d.i-.41,x2:d=>d.i+.41,y1:"bot",y2:"top",fill:d=>d.up?"#008000":"#ff0000",stroke:d=>d.up?"#008000":"#ff0000",strokeWidth:.6,clip:true}),
 line(forecastPath,{stroke:"#3563b5",strokeWidth:1.5}),
 line(forecastHead,{stroke:"#3563b5",strokeWidth:1.5}),
 Plot.axisY({ticks:priceTicks,anchor:"right",tickSize:0,tickPadding:10,tickFormat:d=>d.toFixed(5),label:null,fontSize:12})
]});

// ---- Oscillator pane ----
const inGreen=(a,b)=>oscillatorGreenRanges.some(([s,e])=>a>=s&&b<=e);
const oscPts=[];let run=0,prev=null;
for(let k=1;k<oscillatorSeries.length;k++){
 const [a,va]=oscillatorSeries[k-1],[b,vb]=oscillatorSeries[k],g=inGreen(a,b);
 if(g!==prev){run++;oscPts.push({i:a,v:va,run,g});prev=g;}
 oscPts.push({i:b,v:vb,run,g});
}
const oscPane=Plot.plot({...frame,height:176,marginTop:0,marginBottom:0,y:{domain:[-77,100.4],axis:null},style:sty(),marks:[
 Plot.gridX(monthBars,{stroke:GRID,strokeOpacity:1}),
 Plot.gridY([-40,0,40,80],{stroke:GRID,strokeOpacity:1,strokeWidth:1.3}),
 Plot.ruleY([0],{x1:xDomain[0],x2:413,stroke:"#444",strokeWidth:1.3}),
 Plot.line(oscPts,{x:"i",y:"v",z:"run",stroke:d=>d.g?"#0f9a1f":"#f90400",strokeOpacity:.5,strokeWidth:3.4,clip:true}),
 Plot.axisY({ticks:[-40,0,40,80],anchor:"right",tickSize:0,tickPadding:10,tickFormat:d=>d.toFixed(5).replace("-","\u2212"),label:null,fontSize:12})
]});

// ---- Stochastic pane with the time axis ----
const st=r=>r.map(([i,v])=>({i,v}));
const monthOf=i=>monthNames[monthBars.indexOf(i)];
const stochPane=Plot.plot({...frame,height:70,marginTop:0,marginBottom:28,y:{domain:[-10.9,112.6],axis:null},style:sty(),marks:[
 Plot.gridX(monthBars,{stroke:GRID,strokeOpacity:1}),
 Plot.gridY([0,100],{stroke:GRID,strokeOpacity:1,strokeWidth:1.3}),
 Plot.ruleY(stochLevels,{y:"v",stroke:"c",strokeWidth:1.4}),
 Plot.line(st(slowGreen),{x:"i",y:"v",stroke:"#5cb264",strokeWidth:1.8,strokeOpacity:.8,clip:true}),
 Plot.line(st(slowRed),{x:"i",y:"v",stroke:"#f4574c",strokeWidth:1.8,strokeOpacity:.8,clip:true}),
 Plot.line(st(fastGreen),{x:"i",y:"v",stroke:"#4aa852",strokeWidth:1,clip:true}),
 Plot.line(st(fastRed),{x:"i",y:"v",stroke:"#f2574c",strokeWidth:1,clip:true}),
 Plot.axisY({ticks:[0,100],anchor:"right",tickSize:0,tickPadding:10,dy:2,tickFormat:d=>d.toFixed(2),label:null,fontSize:12}),
 Plot.axisY({ticks:[0,100],anchor:"left",tickSize:0,tickPadding:10,dy:2,tickFormat:d=>d.toFixed(2),label:null,fontSize:12}),
 Plot.axisX({ticks:monthBars.filter(i=>i!==238&&i!==475),anchor:"bottom",tickSize:0,tickPadding:8,tickFormat:monthOf,label:null,fontSize:12}),
 Plot.axisX({ticks:[238],anchor:"bottom",tickSize:0,tickPadding:8,tickFormat:monthOf,label:null,fontSize:12,fontWeight:600})
]});

// ---- Page assembly: chart chrome around the three plots ----
const root=document.getElementById("root");
const add=(el,top)=>{const d=document.createElement("div");d.className="p";d.style.top=top+"px";d.appendChild(el);root.appendChild(d);};
add(pricePane,38);add(oscPane,1001);add(stochPane,1177);
const box=(l,t,w,h,css="")=>{const d=document.createElement("div");d.className="b";d.style.cssText=`left:${l}px;top:${t}px;width:${w}px;height:${h}px;${css}`;root.appendChild(d);return d;};
const txt=(s,l,cy,css="")=>{const d=document.createElement("div");d.className="t";d.style.cssText=`left:${l}px;top:${cy-8}px;${css}`;d.innerHTML=s;root.appendChild(d);return d;};
const DARK="#50535e",LIGHT="#e0e3eb";
// frame and pane dividers
box(0,0,3045,38,"background:#fff");
box(0,37,3045,2,`background:${LIGHT}`);
box(0,0,2,1249,`background:${LIGHT}`);
box(0,1247,3045,2,`background:${LIGHT}`);
box(57,38,1,1209,"background:#50535e");
box(2970,38,1,1209,"background:#50535e");
box(0,1000.4,3045,1.2,`background:${DARK}`);
box(0,1176.4,3045,1.2,`background:${DARK}`);
box(0,1218.6,3045,1.2,`background:${DARK}`);
// toolbar
[102,140,179,281,409,517,626,703,791,854,2700,2739,2849,2888,2927].forEach(x=>box(x,0,1,37,`background:${LIGHT}`));
txt("EURUSD",12,19,"font-weight:600;font-size:13px");
txt("D",117,19);
const icon=(x,y,w,h,inner)=>{const d=document.createElement("div");d.className="b";d.style.cssText=`left:${x}px;top:${y}px;width:${w}px;height:${h}px`;d.innerHTML=`<svg width="${w}" height="${h}" viewBox="0 0 ${w} ${h}" fill="none" stroke="#131722" stroke-width="1">${inner}</svg>`;root.appendChild(d);};
icon(152,9,16,21,'<rect x="2" y="4" width="4" height="13"/><rect x="10" y="7" width="4" height="9"/><path d="M4 0V4M4 17V21M12 2V7M12 16V19"/>');
icon(188,9,21,21,'<circle cx="10.5" cy="10.5" r="9.5"/><path d="M10.5 5V16M5 10.5H16"/>');
txt("Compare",215,19);
icon(292,9,16,21,'<path d="M12 1C8 1 8 4 8 7V15C8 18 7 20 3 20M5 8H11M11 16L14 20M14 16L11 20"/>');
txt("Indicators",317,19);
icon(394,16,9,7,'<path d="M1 1L4.5 5L8 1"/>');
icon(420,10,17,20,'<rect x="1" y="12" width="4" height="7"/><rect x="6" y="7" width="4" height="12"/><rect x="12" y="2" width="4" height="17"/>');
txt("Financials",444,19);
icon(528,10,18,20,'<path d="M1 7L5 3L9 7L13 2L17 6M3 19V12M7 19V9M11 19V13M15 19V10"/>');
txt("Templates",553,19);
icon(636,9,19,22,'<circle cx="9.5" cy="9" r="7.5"/><path d="M9.5 4V9L12 11M9.5 16V22M6 20H13M2 2L5 0M17 2L14 0"/>');
txt("Alert",662,19);
icon(715,11,16,18,'<path d="M7 2L2 9L7 16M14 2L9 9L14 16"/>');
txt("Replay",739,19);
icon(802,12,14,15,'<path d="M1 5L5 1M1 5L5 9M1 5H10C12 5 13 7 13 9V14"/>');
icon(831,12,14,15,'<path stroke="#b2b5be" d="M13 5L9 1M13 5L9 9M13 5H4C2 5 1 7 1 9V14"/>');
icon(2711,10,19,18,'<rect x="1" y="1" width="17" height="16" rx="2"/>');
icon(2747,10,24,19,'<path stroke-dasharray="3,2" d="M3 18C0 18 0 12 4 11C4 6 9 4 11 6C15 0 21 4 20 10C24 11 24 18 20 18H3Z"/>');
txt("EwaveD",2775,19);
icon(2835,16,9,7,'<path d="M1 1L4.5 5L8 1"/>');
icon(2859,9,20,21,'<circle cx="10" cy="10.5" r="3.5"/><circle cx="10" cy="10.5" r="8" stroke-dasharray="4,2"/>');
icon(2899,11,17,17,'<path d="M1 5V1H5M12 1H16V5M1 12V16H5M16 12V16H12M1 1L6 6M16 1L11 6M1 16L6 11M16 16L11 11"/>');
icon(2935,9,22,20,'<rect x="1" y="5" width="20" height="14" rx="2"/><circle cx="11" cy="12" r="4"/><path d="M7 5L8 2H14L15 5"/>');
const pub=box(2966,0,79,38,"background:#2962ff;color:#fff;font-size:14px;text-align:center;line-height:38px");pub.textContent="Publish";
// legend
const R="color:#ff4a4a";
txt(`<span style="color:#50535e">O</span><span style="${R}">1.18763</span> <span style="color:#50535e">H</span><span style="${R}">1.18864</span> <span style="color:#50535e">L</span><span style="${R}">1.18650</span> <span style="color:#50535e">C</span><span style="${R}">1.18695</span> <span style="${R}">\u22120.00087 (\u22120.07%)</span>`,66,57,"font-size:13px;background:rgba(255,255,255,.85)");
box(68,70,38,20,`border:1px solid ${LIGHT};border-radius:3px;background:#fff`);
icon(73,77,9,7,'<path d="M1 1L4.5 5L8 1"/>');
txt("14",86,80,"font-size:12px");
box(68,1183,31,20,`border:1px solid ${LIGHT};border-radius:3px;background:rgba(255,255,255,.75)`);
icon(73,1190,9,7,'<path d="M1 1L4.5 5L8 1"/>');
txt("2",86,1193,"font-size:12px");
box(2920,45,20,20,`border:1px solid ${LIGHT};border-radius:3px;background:#fff;font-size:13px;text-align:center;line-height:18px`).textContent="\u2193";
box(2945,45,20,20,`border:1px solid ${LIGHT};border-radius:3px;background:#fff`);
box(2950,50,10,10,"border:1px solid #131722;border-radius:3px");
box(2989,45,37,20,`border:1px solid ${LIGHT};border-radius:3px;background:#fff;font-size:11px;line-height:18px;padding-left:4px;color:#131722`).textContent="USD";
icon(3016,52,8,6,'<path d="M1 1L4 4L7 1"/>');
// price tags
box(2915,401,54,19,"background:#008000;color:#fff;font-size:12px;text-align:center;line-height:19px").textContent="EURUSD";
const tag=box(2971,401,62,31,"background:#008000;color:#fff;font-size:12px;text-align:left;padding-left:9px;line-height:15px");
tag.innerHTML='<b style="font-weight:600">1.18695</b><br><span style="font-size:11px">13:47:44</span>';
box(2948,825,21,20,"background:#131722;border-radius:2px 0 0 2px");
icon(2951,828,15,14,'<circle cx="7.5" cy="7" r="6" stroke="#fff"/><path stroke="#fff" d="M7.5 4V10M4.5 7H10.5"/>');
box(2971,825,58,20,"background:#131722;color:#fff;font-size:12px;font-weight:600;line-height:20px;padding-left:9px").textContent="1.12786";
box(2856,1220,72,24,"background:#131722;color:#fff;font-size:12px;font-weight:600;text-align:center;line-height:24px;border-radius:2px").textContent="25 Nov '21";
box(19,1222,22,22,"background:#f0f3fa;border-radius:50%;color:#50535e;font-size:11px;text-align:center;line-height:22px").textContent="Z";
box(2998,1222,22,22,"background:#f0f3fa;border-radius:50%;color:#50535e;font-size:11px;text-align:center;line-height:22px").textContent="A";
</script>
</body></html>
